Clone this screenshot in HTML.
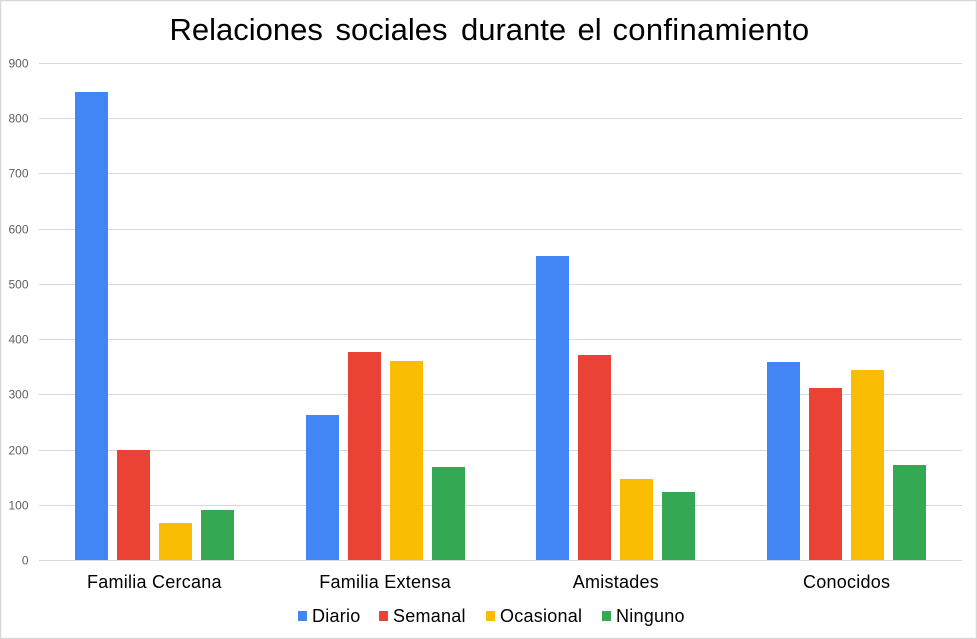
<!DOCTYPE html>
<html lang="es">
<head>
<meta charset="utf-8">
<title>Relaciones sociales durante el confinamiento</title>
<style>
html,body{margin:0;padding:0;background:#fff;width:977px;height:639px;overflow:hidden}
svg{display:block;font-family:"Liberation Sans",Arial,sans-serif}
</style>
</head>
<body>
<svg id="chart" width="977" height="639" viewBox="0 0 977 639" xmlns="http://www.w3.org/2000/svg">
<rect x="0.5" y="0.5" width="976" height="638" fill="#fff" stroke="#d9d9d9" stroke-width="1.5"/>
<text y="40" font-size="31" fill="#000"><tspan x="169.5">Relaciones</tspan> <tspan x="335.5">sociales</tspan> <tspan x="461">durante</tspan> <tspan x="577.5">el</tspan> <tspan x="612.5" letter-spacing="0.3">confinamiento</tspan></text>
</svg>
<script>
const categories = ['Familia Cercana', 'Familia Extensa', 'Amistades', 'Conocidos'];
const seriesNames = ['Diario', 'Semanal', 'Ocasional', 'Ninguno'];
const diario = [848, 263, 551, 359];
const semanal = [200, 377, 372, 312];
const ocasional = [68, 361, 148, 345];
const ninguno = [91, 169, 124, 173];
const yTicks = [0, 100, 200, 300, 400, 500, 600, 700, 800, 900];
const seriesColors = ['#4285f4', '#ea4335', '#fbbc04', '#34a853'];

const svg = document.getElementById('chart');
const NS = 'http://www.w3.org/2000/svg';
const allSeries = [diario, semanal, ocasional, ninguno];
const plotLeft = 39, plotRight = 962, y0 = 560.8, y900 = 63.3;
const yScale = v => y0 - (v / 900) * (y0 - y900);
const band = (plotRight - plotLeft) / categories.length;
const barW = 33, barStep = 42;
const xCenter = i => plotLeft + band * (i + 0.5);
const barX = (c, s) => Math.round(xCenter(c) - (barStep * (allSeries.length - 1) + barW) / 2 + s * barStep);

function make(tag, attrs, text) {
  const el = document.createElementNS(NS, tag);
  for (const k in attrs) el.setAttribute(k, attrs[k]);
  if (text !== undefined) el.textContent = text;
  svg.appendChild(el);
  return el;
}

yTicks.forEach(t => {
  const y = Math.floor(yScale(t)) + 0.5;
  const line = make('line', {x1: plotLeft, x2: plotRight, y1: y, y2: y, stroke: '#d9d9d9', 'stroke-width': 1});
  
  
  const label = make('text', {x: 28.5, y: y + 4.2, 'text-anchor': 'end', 'font-size': 12, fill: '#5f5f5f'}, String(t));
  
  
});

allSeries.forEach((vals, s) => {
  vals.forEach((v, c) => {
    const top = Math.round(yScale(v));
    const bar = make('rect', {x: barX(c, s), y: top, width: barW, height: Math.floor(y0) - top, fill: seriesColors[s]});
    
    
  });
});

categories.forEach((name, c) => {
  const label = make('text', {x: xCenter(c), y: 588, 'text-anchor': 'middle', 'font-size': 18, 'letter-spacing': 0.25, fill: '#000'}, name);
  
  
});

const legendSwatchX = [298, 379, 486, 602];
seriesNames.forEach((name, s) => {
  const swatch = make('rect', {x: legendSwatchX[s], y: 611, width: 9, height: 10, fill: seriesColors[s]});
  
  
  const label = make('text', {x: legendSwatchX[s] + 14, y: 622, 'font-size': 18, 'letter-spacing': 0.25, fill: '#000'}, name);
  
  
});
</script>
</body>
</html>
